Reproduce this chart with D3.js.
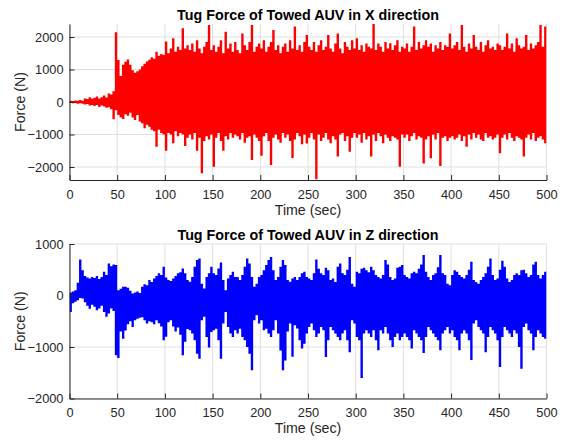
<!DOCTYPE html>
<html>
<head>
<meta charset="utf-8">
<script src="https://cdn.jsdelivr.net/npm/d3@7"></script>
<style>
  body { margin: 0; background: #fff; }
  svg { display: block; }
  text { font-family: "Liberation Sans", Arial, Helvetica, sans-serif; }
</style>
</head>
<body>
<svg id="chart" width="567" height="443"></svg>
<script>
// Tug force records, summarised as the peak (high) and trough (low) force
// reached inside each 2.5 s window from 0 to 500 s.
const binSeconds = 2.5;

const titles = ["Tug Force of Towed AUV in X direction", "Tug Force of Towed AUV in Z direction"];
const xLabel = "Time (sec)";
const yLabel = "Force (N)";

const timeTicks = [0, 50, 100, 150, 200, 250, 300, 350, 400, 450, 500];
const forceXTicks = [-2000, -1000, 0, 1000, 2000];
const forceZTicks = [-2000, -1000, 0, 1000];
const forceXRange = [-2400, 2400];
const forceZRange = [-2000, 1000];

const forceXHigh = [
  40, 30, 50, 40, 60, 40, 110, 90, 150, 100,
  130, 170, 110, 150, 200, 140, 260, 230, 330, 2150,
  1290, 800, 1150, 1240, 1310, 1150, 980, 900, 950, 1000,
  1100, 1180, 1250, 1300, 1380, 1330, 1550, 1420, 1480, 1450,
  1860, 1500, 1650, 1960, 1550, 1700, 1600, 2270, 1650, 1750,
  1600, 1800, 1550, 1900, 1650, 1500, 1700, 1850, 2370, 1600,
  1750, 1550, 1700, 1900, 1500, 2165, 1650, 1800, 1550, 1850,
  1600, 1500, 2110, 1750, 1600, 1850, 2370, 1550, 1700, 1800,
  1650, 1900, 1550, 1700, 1850, 2215, 1600, 1750, 1500, 1700,
  1800, 1550, 1900, 1650, 2320, 1600, 1750, 1550, 1850, 2060,
  1700, 1600, 1850, 1550, 1750, 1900, 1600, 1700, 2060, 1650,
  1550, 1800, 2110, 1650, 1500, 1850, 1700, 1600, 1900, 1650,
  1960, 1600, 1750, 1550, 1800, 1700, 1650, 2400, 1600, 1800,
  1700, 1550, 1850, 1650, 1805, 1600, 1750, 1900, 1550, 1700,
  1650, 1800, 1550, 1700, 2320, 1600, 1850, 1650, 1750, 1900,
  1700, 1800, 1550, 1750, 1650, 1850, 1600, 1750, 1700, 2110,
  1650, 1750, 1850, 1600, 2370, 1700, 1550, 1800, 1650, 2060,
  1700, 1600, 1850, 1550, 1750, 1900, 1650, 1700, 1600, 1800,
  1750, 1600, 1700, 2110, 1650, 1800, 1550, 1960, 1750, 1650,
  1700, 2060, 1600, 1800, 1650, 1750, 1850, 2370, 1700, 2320
];
const forceXLow = [
  -30, -40, -30, -50, -40, -50, -80, -60, -110, -90,
  -120, -90, -150, -110, -140, -180, -160, -220, -530, -250,
  -400, -480, -520, -380, -420, -330, -480, -550, -400, -600,
  -650, -810, -700, -760, -850, -900, -1375, -850, -950, -1000,
  -1500, -950, -1000, -1270, -900, -1050, -950, -1000, -1350, -1100,
  -1000, -1150, -950, -1500, -1100, -2195, -1200, -1050, -1150, -1000,
  -1990, -1100, -950, -1200, -1500, -1050, -1150, -950, -1100, -1000,
  -1050, -1150, -950, -1250, -1100, -1050, -1785, -1000, -1100, -1200,
  -1650, -1050, -950, -1200, -1940, -1100, -1000, -1150, -1250, -950,
  -1100, -1000, -1200, -1720, -1150, -950, -1050, -1300, -1000, -1280,
  -1100, -950, -1150, -2380, -1000, -1200, -1100, -950, -1150, -1270,
  -1050, -1150, -1680, -1000, -950, -1200, -1050, -1530, -1100, -950,
  -1100, -1000, -1250, -950, -1150, -1050, -1680, -1000, -1200, -950,
  -1050, -1270, -1000, -1100, -1200, -1050, -1100, -1150, -1990, -1000,
  -1100, -1000, -1200, -1050, -950, -1150, -1050, -1100, -1890, -1150,
  -1050, -1730, -1000, -1150, -950, -1970, -1100, -1050, -1200, -1100,
  -1050, -1150, -1100, -1000, -1200, -1050, -1375, -1000, -1150, -950,
  -1100, -1000, -1150, -1200, -950, -1100, -1050, -1150, -1100, -1000,
  -1580, -1100, -1000, -1150, -950, -1100, -1200, -1050, -1100, -1150,
  -1680, -1100, -1000, -1150, -950, -1200, -1100, -1050, -1150, -1270
];

const forceZHigh = [
  60, 80, 100, 250, 700, 490, 380, 350, 330, 360,
  340, 380, 320, 360, 460, 400, 620, 570, 600, 590,
  100, 130, 170, 170, 150, 90, 40, 60, 80, 50,
  170, 220, 200, 300, 260, 330, 380, 430, 400, 560,
  350, 300, 280, 330, 380, 430, 450, 525, 430, 300,
  265, 360, 560, 690, 720, 230, 135, 360, 430, 560,
  430, 400, 525, 640, 300, 100, 330, 400, 460, 360,
  360, 300, 400, 560, 720, 620, 360, 170, 230, 360,
  400, 490, 590, 690, 750, 490, 300, 360, 560, 690,
  590, 300, 265, 330, 360, 300, 360, 430, 460, 360,
  330, 300, 430, 700, 520, 430, 400, 540, 490, 300,
  330, 260, 560, 620, 430, 400, 500, 750, 230, 170,
  460, 430, 520, 540, 490, 450, 560, 490, 400, 360,
  330, 400, 690, 600, 360, 300, 330, 540, 560, 590,
  400, 360, 330, 430, 460, 430, 520, 600, 785, 460,
  360, 300, 400, 430, 550, 785, 430, 400, 230, 200,
  400, 490, 460, 400, 360, 330, 400, 500, 655, 300,
  260, 230, 300, 360, 430, 560, 720, 400, 300, 330,
  500, 675, 560, 330, 260, 300, 400, 430, 400, 490,
  500, 430, 360, 400, 600, 655, 400, 330, 400, 460
];
const forceZLow = [
  -320, -150, -120, -90, -50, -60, -130, -200, -255, -180,
  -220, -285, -250, -200, -320, -415, -350, -250, -300, -1160,
  -1215, -700, -840, -680, -560, -500, -610, -480, -450, -430,
  -420, -480, -545, -500, -520, -560, -480, -540, -600, -870,
  -800, -520, -480, -600, -700, -620, -760, -1160, -900, -650,
  -675, -740, -870, -1130, -1230, -480, -415, -805, -1010, -710,
  -675, -645, -870, -1230, -545, -320, -610, -740, -805, -675,
  -740, -645, -805, -870, -1000, -1130, -1450, -480, -385, -545,
  -480, -675, -645, -740, -805, -675, -480, -740, -1070, -1450,
  -1260, -700, -545, -1190, -580, -640, -870, -1030, -935, -740,
  -610, -545, -675, -805, -740, -610, -675, -1195, -870, -610,
  -675, -740, -805, -870, -740, -675, -870, -1100, -480, -545,
  -805, -870, -1600, -740, -675, -740, -805, -675, -870, -1065,
  -675, -740, -610, -740, -870, -1000, -805, -740, -870, -805,
  -740, -805, -870, -1030, -675, -740, -805, -870, -1115, -805,
  -610, -675, -740, -805, -870, -1065, -740, -675, -610, -740,
  -675, -805, -870, -1065, -740, -675, -740, -870, -1250, -545,
  -480, -610, -675, -740, -1100, -805, -610, -675, -740, -870,
  -1390, -805, -610, -675, -740, -805, -675, -740, -1000, -1420,
  -610, -545, -675, -740, -1065, -805, -675, -740, -805, -840
];

// ---- layout ----
const plotLeft = 69.5, plotRight = 546.5;
const axisColor = "#262626";
const gridColor = "#dfdfdf";

const panels = [
  { title: titles[0], high: forceXHigh, low: forceXLow, ticks: forceXTicks, range: forceXRange,
    color: "#ff0000", top: 24, bottom: 180 },
  { title: titles[1], high: forceZHigh, low: forceZLow, ticks: forceZTicks, range: forceZRange,
    color: "#0000ff", top: 244, bottom: 398.5 }
];

const svg = d3.select("#chart");
const fmt = d3.format("d");

// one record per window (start time, peak, trough); the last window is
// repeated at its end time so the stepped band closes at 500 s
function windowsOf(high, low) {
  const w = high.map((h, i) => ({ t: i * binSeconds, hi: h, lo: low[i] }));
  const last = w[w.length - 1];
  w.push({ t: last.t + binSeconds, hi: last.hi, lo: last.lo });
  return w;
}

panels.forEach((p, k) => {
  const x = d3.scaleLinear().domain([timeTicks[0], timeTicks[timeTicks.length - 1]]).range([plotLeft, plotRight]);
  const y = d3.scaleLinear().domain(p.range).range([p.bottom, p.top]);
  const g = svg.append("g");

  // grid
  g.append("g").selectAll("line").data(timeTicks).join("line")
    .attr("x1", d => x(d)).attr("x2", d => x(d))
    .attr("y1", p.top).attr("y2", p.bottom)
    .attr("stroke", gridColor).attr("stroke-width", 1);
  g.append("g").selectAll("line").data(p.ticks).join("line")
    .attr("x1", plotLeft).attr("x2", plotRight)
    .attr("y1", d => y(d)).attr("y2", d => y(d))
    .attr("stroke", gridColor).attr("stroke-width", 1);

  // signal: every window spans from its trough up to its peak
  const clipId = "clip" + k;
  svg.append("clipPath").attr("id", clipId).append("rect")
    .attr("x", plotLeft).attr("y", p.top)
    .attr("width", plotRight - plotLeft).attr("height", p.bottom - p.top);
  const band = d3.area().curve(d3.curveStepAfter)
    .x(d => x(d.t)).y0(d => y(d.lo)).y1(d => y(d.hi));
  g.append("path")
    .attr("clip-path", `url(#${clipId})`)
    .attr("d", band(windowsOf(p.high, p.low)))
    .attr("fill", p.color)
    .attr("stroke", "none");

  // axes
  const xAxis = d3.axisBottom(x).tickValues(timeTicks).tickFormat(fmt)
    .tickSizeInner(-5).tickSizeOuter(0).tickPadding(9.5);
  const yAxis = d3.axisLeft(y).tickValues(p.ticks).tickFormat(fmt)
    .tickSizeInner(-5).tickSizeOuter(0).tickPadding(6);
  const gx = g.append("g").attr("transform", `translate(0,${p.bottom})`).call(xAxis);
  const gy = g.append("g").attr("transform", `translate(${plotLeft},0)`).call(yAxis);
  [gx, gy].forEach(a => {
    a.select(".domain").attr("stroke", axisColor);
    a.selectAll(".tick line").attr("stroke", axisColor);
    a.selectAll(".tick text").attr("fill", axisColor).style("font-size", "12.8px");
  });

  // titles and labels
  const mid = (plotLeft + plotRight) / 2;
  g.append("text").attr("x", mid).attr("y", p.top - 4.5)
    .attr("text-anchor", "middle").attr("font-weight", "bold")
    .style("font-size", "14.3px").attr("fill", "#000").text(p.title);
  g.append("text").attr("x", mid).attr("y", p.bottom + 34.5)
    .attr("text-anchor", "middle").style("font-size", "14.2px")
    .attr("fill", axisColor).text(xLabel);
  g.append("text")
    .attr("transform", `translate(25,${(p.top + p.bottom) / 2}) rotate(-90)`)
    .attr("text-anchor", "middle").style("font-size", "14.2px")
    .attr("fill", axisColor).text(yLabel);
});
</script>
</body>
</html>
